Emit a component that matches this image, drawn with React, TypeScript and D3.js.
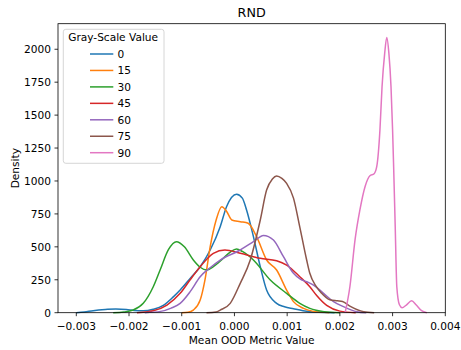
import React from "react";
import * as d3 from "d3";

const W = 461;
const H = 350;
const PLOT = { left: 58, right: 445.3, top: 23.7, bottom: 312.7 };
const X_DOMAIN: [number, number] = [-0.0033472, 0.004];
const Y_DOMAIN: [number, number] = [0, 2194];

const X_TICKS = [-0.003, -0.002, -0.001, 0.0, 0.001, 0.002, 0.003, 0.004];
const Y_TICKS = [0, 250, 500, 750, 1000, 1250, 1500, 1750, 2000];

const TITLE = "RND";
const X_LABEL = "Mean OOD Metric Value";
const Y_LABEL = "Density";
const LEGEND_TITLE = "Gray-Scale Value";
const SERIES_LABELS = ["0", "15", "30", "45", "60", "75", "90"];
const COLORS = ["#1f77b4", "#ff7f0e", "#2ca02c", "#d62728", "#9467bd", "#8c564b", "#e377c2"];

const gray0: [number, number][] = [
  [-0.003, 0], [-0.00285, 5], [-0.00268, 15], [-0.00245, 24], [-0.00225, 29], [-0.00205, 25],
  [-0.0019, 17], [-0.00173, 14], [-0.00154, 26], [-0.00135, 55], [-0.00116, 120], [-0.00103, 172],
  [-0.00084, 260], [-0.00065, 349], [-0.00046, 476], [-0.00027, 653], [-0.00015, 805], [0.00004, 900],
  [0.00015, 870], [0.00023, 780], [0.00036, 577], [0.00049, 349], [0.00061, 172], [0.0008, 71],
  [0.00095, 45], [0.00112, 30], [0.0013, 15], [0.0016, 3], [0.0019, 0],
];
const gray15: [number, number][] = [
  [-0.001, 0], [-0.00088, 3], [-0.00078, 20], [-0.00065, 96], [-0.00056, 248], [-0.00046, 501],
  [-0.00035, 700], [-0.00024, 805], [-0.00015, 770], [-0.00005, 704], [0.00011, 691], [0.00026, 679],
  [0.00042, 577], [0.00061, 400], [0.0008, 324], [0.00099, 172], [0.00112, 84], [0.00131, 33],
  [0.0015, 10], [0.0018, 0],
];
const gray30: [number, number][] = [
  [-0.0023, 0], [-0.0021, 5], [-0.00192, 20], [-0.00173, 71], [-0.00154, 197], [-0.00141, 324],
  [-0.00125, 480], [-0.0011, 539], [-0.00095, 500], [-0.00078, 400], [-0.00065, 345], [-0.00053, 324],
  [-0.0004, 350], [-0.00022, 410], [-0.00008, 460], [0.00004, 484], [0.00015, 465], [0.00036, 400],
  [0.00068, 248], [0.00099, 147], [0.00124, 71], [0.00143, 33], [0.0017, 8], [0.002, 0],
];
const gray45: [number, number][] = [
  [-0.00185, 0], [-0.00165, 8], [-0.00154, 15], [-0.00128, 58], [-0.00103, 147], [-0.00084, 250],
  [-0.00065, 349], [-0.0004, 451], [-0.00018, 476], [0.00011, 451], [0.00049, 413], [0.0008, 395],
  [0.00099, 362], [0.00124, 273], [0.00143, 197], [0.00156, 130], [0.00175, 55], [0.002, 12],
  [0.0023, 0],
];
const gray60: [number, number][] = [
  [-0.0017, 0], [-0.0014, 10], [-0.0012, 35], [-0.00103, 71], [-0.00084, 160], [-0.00065, 273],
  [-0.00045, 345], [-0.00027, 400], [0.00011, 476], [0.00036, 539], [0.00055, 587], [0.00074, 552],
  [0.00093, 425], [0.00112, 299], [0.00125, 255], [0.00137, 235], [0.0015, 210], [0.00169, 147],
  [0.00188, 84], [0.00207, 46], [0.00232, 8], [0.0025, 0],
];
const gray75: [number, number][] = [
  [-0.00053, 0], [-0.00035, 6], [-0.00027, 20], [-0.00008, 71], [0.00011, 223], [0.0003, 400],
  [0.00049, 704], [0.00061, 931], [0.00072, 1015], [0.0008, 1038], [0.0009, 1020], [0.00099, 982],
  [0.00112, 870], [0.00124, 650], [0.00137, 400], [0.00143, 299], [0.00155, 200], [0.00165, 150],
  [0.00181, 98], [0.00195, 90], [0.00205, 85], [0.00219, 50], [0.00245, 8], [0.00265, 0],
];
const gray90: [number, number][] = [
  [0.0021, 0], [0.00219, 197], [0.00229, 560], [0.00238, 780], [0.00248, 960], [0.00257, 1040],
  [0.00265, 1055], [0.0027, 1110], [0.00276, 1387], [0.0028, 1716], [0.00285, 1969], [0.00289, 2090],
  [0.00293, 1969], [0.00297, 1716], [0.003, 1387], [0.00302, 1108], [0.00305, 653], [0.00308, 197],
  [0.00313, 60], [0.00318, 38], [0.00326, 58], [0.00336, 90], [0.00345, 58], [0.00355, 15], [0.00365, 0],
];

const SERIES = [gray0, gray15, gray30, gray45, gray60, gray75, gray90];

const FONT = "DejaVu Sans, sans-serif";
const FS = 10.6;

function fmtX(v: number) {
  const s = Math.abs(v).toFixed(3);
  return v < -1e-12 ? "\u2212" + s : s;
}

export default function App() {
  const x = d3.scaleLinear().domain(X_DOMAIN).range([PLOT.left, PLOT.right]);
  const y = d3.scaleLinear().domain(Y_DOMAIN).range([PLOT.bottom, PLOT.top]);
  const line = d3
    .line<[number, number]>()
    .x((d) => x(d[0]))
    .y((d) => y(d[1]))
    .curve(d3.curveMonotoneX);

  const cx = (PLOT.left + PLOT.right) / 2;
  const cy = (PLOT.top + PLOT.bottom) / 2;

  const legend = { x: 63.3, y: 29.3, w: 100.7, h: 134 };
  const rowY0 = 54;
  const rowDy = 16.45;

  return (
    <svg
      width={W}
      height={H}
      style={{ position: "absolute", left: 0, top: 0, background: "#fff" }}
      fontFamily={FONT}
    >
      <rect x={0} y={0} width={W} height={H} fill="#fff" />
      {SERIES.map((s, i) => (
        <path key={i} d={line(s) || ""} fill="none" stroke={COLORS[i]} strokeWidth={1.5} />
      ))}
      <rect
        x={PLOT.left}
        y={PLOT.top}
        width={PLOT.right - PLOT.left}
        height={PLOT.bottom - PLOT.top}
        fill="none"
        stroke="#000"
        strokeWidth={0.8}
      />
      {X_TICKS.map((t) => (
        <g key={"x" + t}>
          <line x1={x(t)} x2={x(t)} y1={PLOT.bottom} y2={PLOT.bottom + 3.5} stroke="#000" strokeWidth={0.8} />
          <text x={x(t)} y={330} fontSize={FS} textAnchor="middle" fill="#000">
            {fmtX(t)}
          </text>
        </g>
      ))}
      {Y_TICKS.map((t) => (
        <g key={"y" + t}>
          <line x1={PLOT.left - 3.5} x2={PLOT.left} y1={y(t)} y2={y(t)} stroke="#000" strokeWidth={0.8} />
          <text x={51} y={y(t)} dy="0.36em" fontSize={FS} textAnchor="end" fill="#000">
            {t}
          </text>
        </g>
      ))}
      <text x={cx} y={16.8} fontSize={12.7} textAnchor="middle" fill="#000">
        {TITLE}
      </text>
      <text x={cx} y={344} fontSize={FS} textAnchor="middle" fill="#000">
        {X_LABEL}
      </text>
      <text
        transform={`translate(18.5,${cy}) rotate(-90)`}
        fontSize={FS}
        textAnchor="middle"
        fill="#000"
      >
        {Y_LABEL}
      </text>
      <rect
        x={legend.x}
        y={legend.y}
        width={legend.w}
        height={legend.h}
        rx={2.5}
        fill="#fff"
        fillOpacity={0.8}
        stroke="#cccccc"
        strokeWidth={0.8}
      />
      <text x={legend.x + legend.w / 2 - 0.5} y={41} fontSize={FS} textAnchor="middle" fill="#000">
        {LEGEND_TITLE}
      </text>
      {SERIES_LABELS.map((lab, i) => {
        const ry = rowY0 + i * rowDy;
        return (
          <g key={lab}>
            <line x1={90} x2={113.3} y1={ry} y2={ry} stroke={COLORS[i]} strokeWidth={1.5} />
            <text x={117.5} y={ry} dy="0.36em" fontSize={FS} fill="#000">
              {lab}
            </text>
          </g>
        );
      })}
    </svg>
  );
}
